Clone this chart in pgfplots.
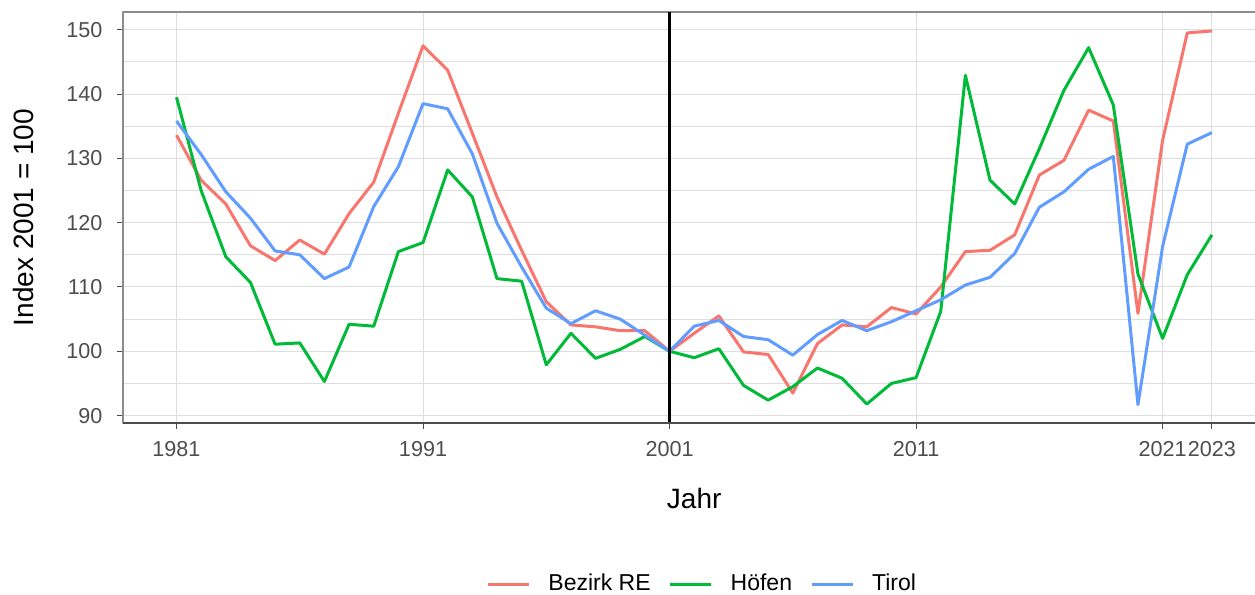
\documentclass[border=0pt]{standalone}
\usepackage{pgfplots}
\pgfplotsset{compat=1.18}
\usepackage{pgfplotstable}
\usepackage{fontspec}
\setmainfont{Liberation Sans}
\definecolor{cRed}{HTML}{F8766D}
\definecolor{cGreen}{HTML}{00BA38}
\definecolor{cBlue}{HTML}{619CFF}
\definecolor{gridc}{HTML}{DEDEDE}
\definecolor{borderc}{HTML}{8C8C8C}
\definecolor{tickc}{HTML}{4D4D4D}

\pgfplotstableread{
year re hoefen tirol
1981 133.6 139.5 135.8
1982 126.6 125.0 130.6
1983 122.9 114.7 124.8
1984 116.4 110.7 120.7
1985 114.1 101.1 115.6
1986 117.3 101.3 115.0
1987 115.1 95.3 111.3
1988 121.4 104.2 113.1
1989 126.3 103.9 122.5
1990 137.0 115.5 128.7
1991 147.5 116.9 138.5
1992 143.7 128.2 137.7
1993 133.9 124.0 130.7
1994 124.0 111.3 119.9
1995 115.7 110.9 113.1
1996 107.7 97.9 106.7
1997 104.1 102.8 104.3
1998 103.8 98.9 106.3
1999 103.2 100.3 105.0
2000 103.2 102.3 102.5
2001 100.0 100.0 100.0
2002 102.8 99.0 103.9
2003 105.5 100.4 104.8
2004 99.9 94.7 102.3
2005 99.5 92.4 101.8
2006 93.5 94.5 99.4
2007 101.2 97.4 102.6
2008 104.1 95.8 104.8
2009 103.8 91.8 103.2
2010 106.8 95.0 104.6
2011 105.8 95.9 106.3
2012 110.0 106.2 108.0
2013 115.5 142.9 110.3
2014 115.7 126.6 111.5
2015 118.1 122.9 115.2
2016 127.4 131.5 122.4
2017 129.7 140.6 124.8
2018 137.5 147.2 128.3
2019 135.8 138.3 130.3
2020 105.9 112.0 91.7
2021 132.8 102.0 116.3
2022 149.5 111.9 132.2
2023 149.8 118.1 134.0
}\datatable

\begin{document}
\begin{tikzpicture}
\useasboundingbox (-61.5pt,-86pt) rectangle (566pt,211.5pt);
\begin{axis}[
  at={(0,0)}, anchor=south west,
  scale only axis,
  width=571.2pt, height=205.5pt,
  xmin=1978.83, xmax=2025.17,
  ymin=88.85, ymax=152.75,
  xtick={1981,1991,2001,2011,2021,2023},
  ytick={90,100,110,120,130,140,150},
  minor ytick={95,105,115,125,135,145},
  /pgf/number format/1000 sep={},
  /pgf/number format/assume math mode=true,
  tick label style={font=\fontsize{10.8}{12}\selectfont, text=tickc},
  xticklabel style={yshift=-3pt},
  yticklabel style={xshift=-4pt},
  grid=both,
  major grid style={gridc, line width=0.5pt},
  minor grid style={gridc, line width=0.4pt},
  minor tick length=0pt,
  major tick length=2.75pt,
  tick align=outside,
  tick pos=left,
  major tick style={tickc, line width=0.5pt},
  axis line style={borderc, line width=0.6pt},
  xlabel={Jahr},
  ylabel={Index 2001 = 100},
  label style={font=\fontsize{14}{16}\selectfont},
  xlabel style={at={(axis description cs:0.5,0)}, anchor=center, yshift=-37.5pt},
  ylabel style={at={(axis description cs:-0.0867,0.5)}, anchor=center, rotate=0},
  legend columns=3,
  legend style={at={(axis description cs:0.5140,0)}, anchor=center, yshift=-80.5pt,
    draw=none, font=\fontsize{11.5}{13}\selectfont,
    /tikz/every even column/.append style={column sep=0pt},
    nodes={inner xsep=9pt}},
  legend image code/.code={\draw[#1, line width=1.5pt] (0pt,0pt) -- (20.5pt,0pt);},
  line join=round,
]
\addplot[cRed, line width=1.5pt] table[x=year, y=re] {\datatable};
\addlegendentry{Bezirk RE}
\addplot[cGreen, line width=1.5pt] table[x=year, y=hoefen] {\datatable};
\addlegendentry{Höfen}
\addplot[cBlue, line width=1.5pt] table[x=year, y=tirol] {\datatable};
\addlegendentry{Tirol}
\addplot[black, line width=1.1pt, forget plot] coordinates {(2001,88.85) (2001,152.75)};
\draw[tickc, line width=1pt] (rel axis cs:0,0) -- (rel axis cs:1,0);
\end{axis}
\end{tikzpicture}
\end{document}
